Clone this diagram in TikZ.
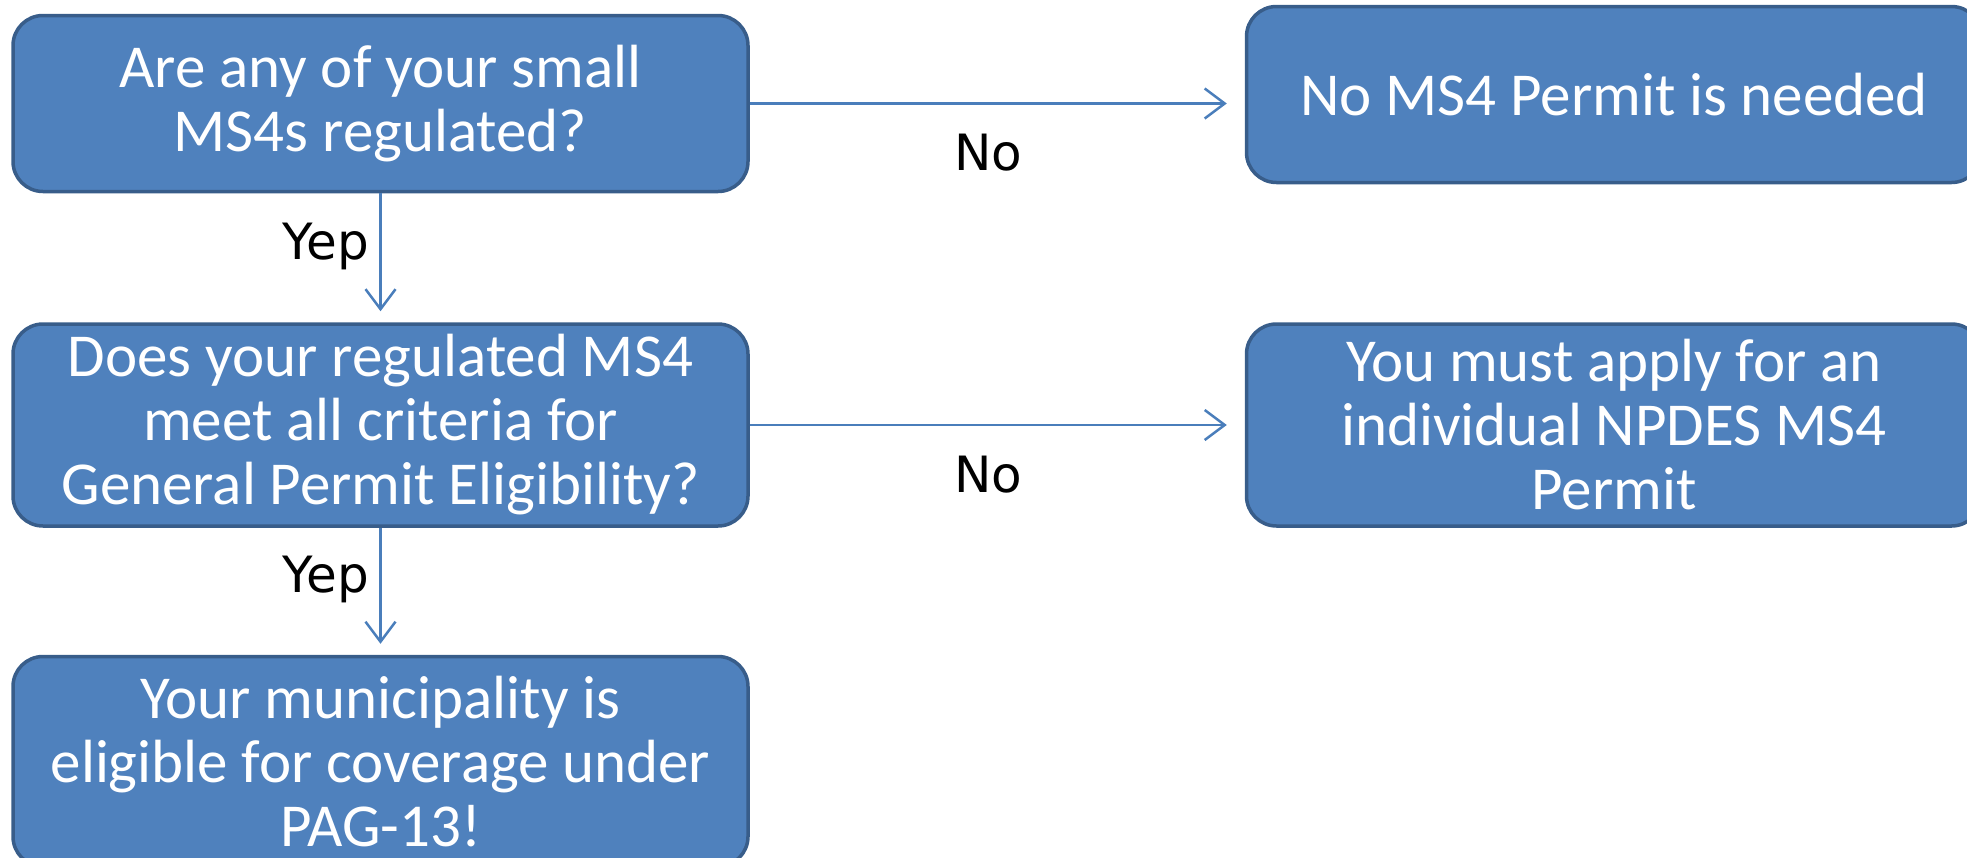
\documentclass[tikz,border=0pt]{standalone}
\usepackage{fontspec}
\setmainfont{Carlito}
\newfontfamily\labelfont{DejaVu Sans}
\usetikzlibrary{arrows.meta, positioning}
\definecolor{msblue}{HTML}{4F81BD}
\definecolor{msedge}{HTML}{385D8A}
\definecolor{msline}{HTML}{4A7EBB}

\begin{document}
\begin{tikzpicture}[
    x=1pt, y=-1pt,
    box/.style={rectangle, draw=msedge, fill=msblue, line width=3.5pt, rounded corners=30pt, minimum width=735pt, align=center, text=white, font=\fontsize{61}{64}\selectfont},
    arrow/.style={-{Straight Barb[length=20pt, width=30pt, line width=2.5pt]}, draw=msline, line width=2.5pt},
    answer/.style={font=\labelfont\fontsize{50}{56}\selectfont, text=black}
]
\useasboundingbox (0,0) rectangle (1967,857);

\node[box, minimum height=176pt] (q1) at (380.5,103.5) {Are any of your small\\MS4s regulated?};
\node[box, minimum height=176pt, right=495pt of q1, yshift=9pt] (none) {No MS4 Permit is needed};
\node[box, minimum height=202pt, below=129pt of q1] (q2) {Does your regulated MS4\\meet all criteria for\\General Permit Eligibility?};
\node[box, minimum height=202pt, right=495pt of q2] (indiv) {You must apply for an\\individual NPDES MS4\\Permit};
\node[box, minimum height=210pt, below=127pt of q2] (pag) {Your municipality is\\eligible for coverage under\\PAG-13!};

\draw[arrow, shorten >=18pt] (q1.east) -- node[answer, below=26pt, xshift=-9pt] {No} (q1.east -| none.west);
\draw[arrow, shorten >=18pt] (q2.east) -- node[answer, below=26pt, xshift=-9pt] {No} (indiv.west);
\draw[arrow, shorten >=11pt] (q1.south) -- node[answer, left=7pt, yshift=11pt] {Yep} (q2.north);
\draw[arrow, shorten >=11pt] (q2.south) -- node[answer, left=7pt, yshift=12pt] {Yep} (pag.north);

\end{tikzpicture}
\end{document}
